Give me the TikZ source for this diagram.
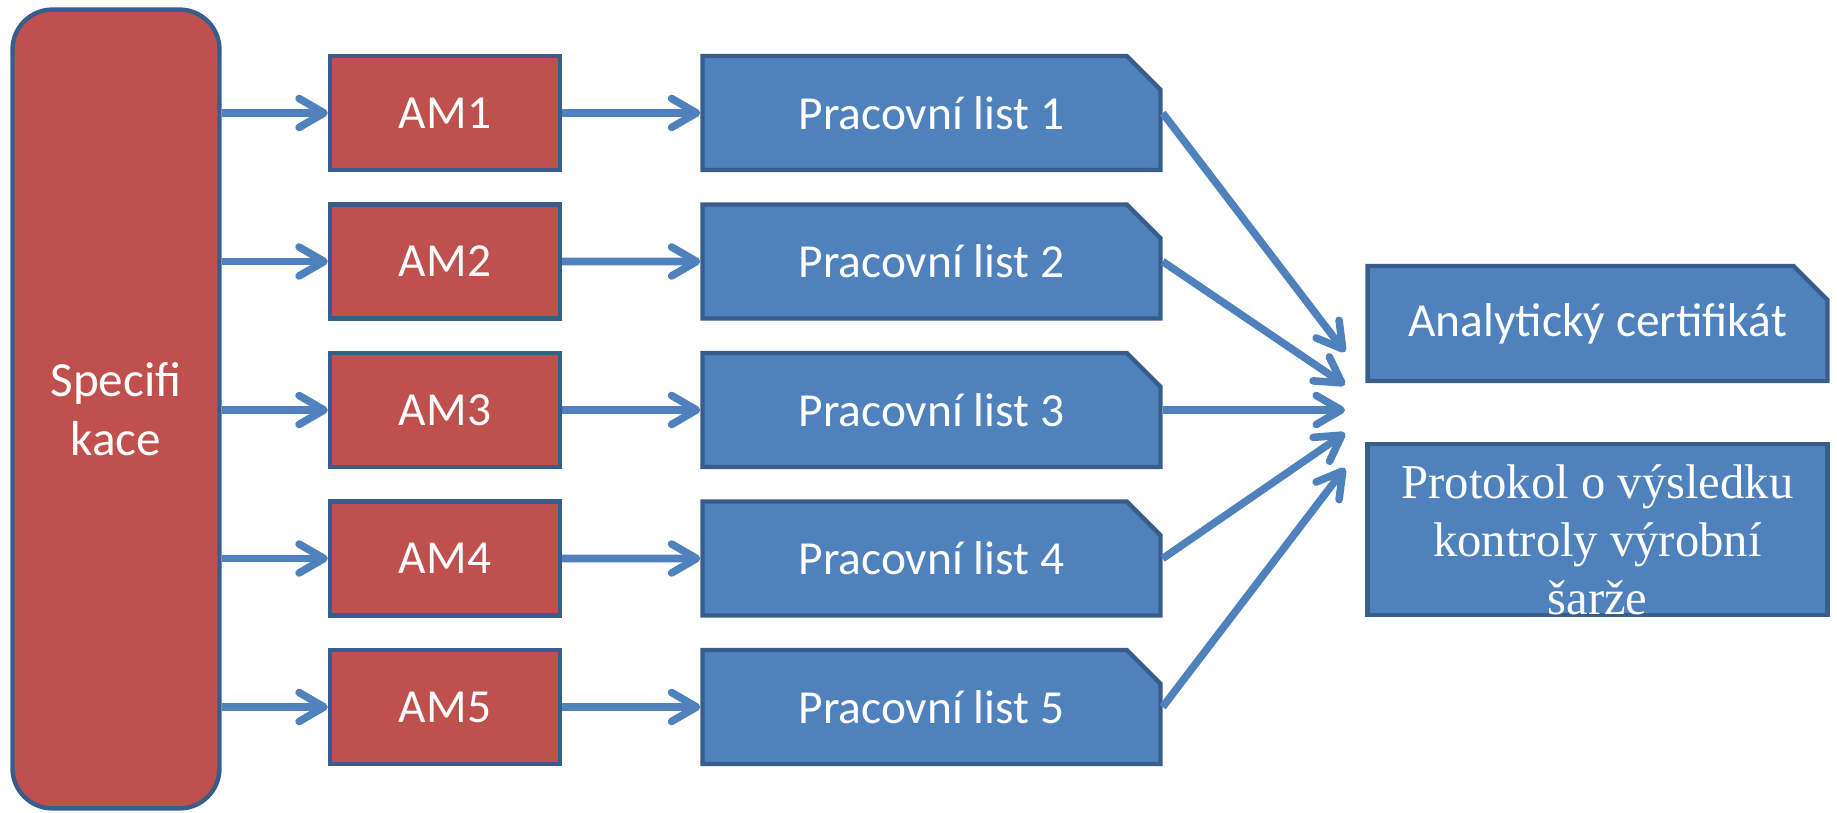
\documentclass[tikz,border=0pt]{standalone}
\usepackage{fontspec}
\setmainfont{Carlito}
\newfontfamily\protfont{Liberation Serif}
\usetikzlibrary{positioning,arrows.meta,shapes.misc}
\definecolor{boxred}{RGB}{192,80,77}
\definecolor{boxblue}{RGB}{79,129,189}
\definecolor{edgeblue}{RGB}{56,93,138}

\tikzset{
  redbox/.style={draw=edgeblue,fill=boxred,line width=2.5pt,text=white,
    font=\fontsize{27}{33}\selectfont,inner sep=0pt},
  sheet/.style={chamfered rectangle,chamfered rectangle corners=north east,
    chamfered rectangle sep=0.34cm,draw=edgeblue,fill=boxblue,line width=2.5pt,
    text=white,font=\fontsize{27}{33}\selectfont,inner sep=0pt},
  flow/.style={draw=boxblue,line width=4.3pt,
    -{Straight Barb[length=0.5cm,width=0.58cm,round]}}
}

\begin{document}
\begin{tikzpicture}[x=0.02cm,y=-0.02cm]
  \useasboundingbox (0,0) rectangle (1837,813);
  \node[redbox,rounded corners=0.8cm,minimum width=4.14cm,minimum height=15.98cm,
        align=center,font=\fontsize{28}{33.5}\selectfont]
    (spec) at (116,409) {Specifi\\kace};
  \foreach \i/\y in {1/113,2/261.5,3/410,4/558.5,5/707}{
    \node[redbox,minimum width=4.6cm,minimum height=2.28cm] (am\i) at (445,\y) {AM\i};
    \node[sheet,minimum width=9.16cm,minimum height=2.28cm] (pl\i) at (931.5,\y) {Pracovní list \i};
    \draw[flow] (spec.east |- am\i.west) -- (am\i.west);
    \draw[flow] (am\i) -- (pl\i);
  }
  % outputs
  \node[sheet,minimum width=9.2cm,minimum height=2.3cm] (cert) at (1597.5,323.5)
    {Analytický certifikát};
  \node[sheet,minimum width=9.2cm,minimum height=3.42cm] (prot) at (1597.5,529.5) {};
  \node[text=white,align=center,font=\protfont\fontsize{27.7}{33}\selectfont]
    (prottext) at ([yshift=-0.2cm]prot.center)
    {Protokol o výsledku\\kontroly výrobní\\šarže};
  \coordinate (in1) at (1345,352);
  \coordinate (in2) at (1345,385);
  \coordinate (in3) at (1345,410);
  \coordinate (in4) at (1345,433);
  \coordinate (in5) at (1345,468);
  \foreach \i in {1,...,5}
    \draw[flow] (pl\i.east) -- (in\i);
\end{tikzpicture}
\end{document}
